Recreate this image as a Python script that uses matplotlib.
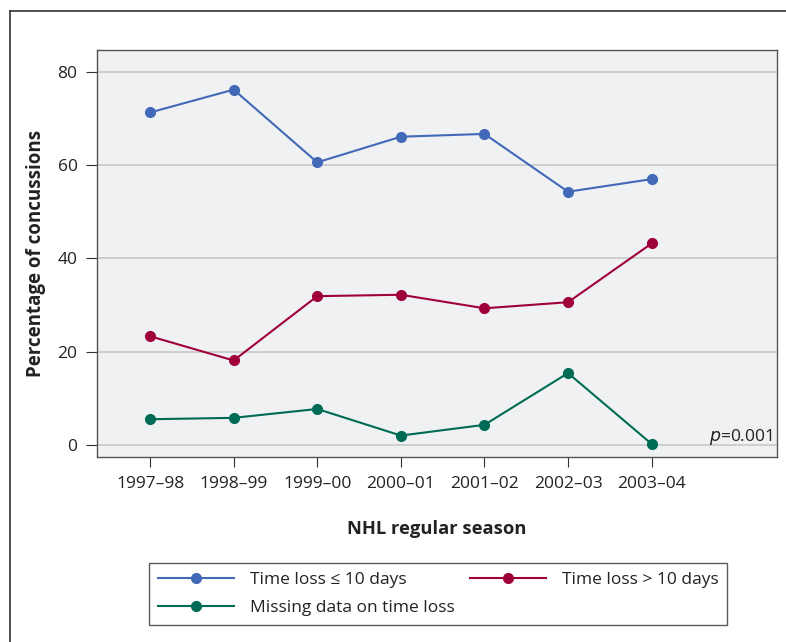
import matplotlib
matplotlib.use("Agg")
from matplotlib import pyplot as plt
from matplotlib.lines import Line2D

plt.rcParams['font.family'] = ['Open Sans', 'DejaVu Sans']

# data
seasons = ["1997\u201398", "1998\u201399", "1999\u201300", "2000\u201301",
           "2001\u201302", "2002\u201303", "2003\u201304"]
short_loss = [71.3, 76.2, 60.6, 66.1, 66.7, 54.3, 57.0]
long_loss = [23.3, 18.1, 31.9, 32.2, 29.3, 30.6, 43.2]
missing = [5.5, 5.8, 7.7, 2.0, 4.3, 15.4, 0.2]

series_labels = ["Time loss \u2264 10 days", "Time loss > 10 days",
                 "Missing data on time loss"]
colors = ["#4169b8", "#a0003a", "#006b55"]

W, H = 786, 642
fig = plt.figure(figsize=(W / 100, H / 100), dpi=100)
ax = fig.add_axes([97 / W, 1 - 457 / H, 680 / W, 407 / H])
ax.set_facecolor("#f0f1f3")

xs = list(range(len(seasons)))
handles = []
for vals, lab, col in zip([short_loss, long_loss, missing], series_labels, colors):
    h, = ax.plot(xs, vals, color=col, lw=1.5, marker="o", ms=7, label=lab, zorder=3)
    handles.append(h)

ax.set_xlim(-0.635, 7.5)
ax.set_ylim(-2.6, 84.7)
ax.set_yticks([0, 20, 40, 60, 80])
ax.set_xticks(xs)
ax.set_xticklabels(seasons)
ax.grid(axis="y", color="#c9c9c9", lw=1.2)
ax.set_axisbelow(True)
ax.tick_params(axis="both", direction="out", length=7, width=0.8, color="#333333",
               labelsize=12.5, labelcolor="#222222")
ax.tick_params(axis="x", pad=7)
ax.tick_params(axis="y", length=8, pad=6)
for sp in ax.spines.values():
    sp.set_color("#555555")
    sp.set_linewidth(1.0)

ax.set_ylabel("Percentage of concussions", fontsize=13.5, fontweight="bold",
              color="#222222", labelpad=8)
ax.set_xlabel("NHL regular season", fontsize=13.2, fontweight="bold",
              color="#222222", labelpad=20)

ax.text(0.993, 0.025, "$\\it{p}$=0.001", transform=ax.transAxes, ha="right",
        va="bottom", fontsize=12.5, color="#222222")

# legend: blue, red on first row, green on second
leg = fig.legend([handles[0], handles[2], handles[1]],
                 [series_labels[0], series_labels[2], series_labels[1]],
                 ncol=2, loc="upper left",
                 bbox_to_anchor=(149 / W, 1 - 563 / H, 578 / W, 0),
                 mode="expand", frameon=True, fancybox=False, fontsize=12.5,
                 handlelength=4.4, handletextpad=0.9, columnspacing=1.5,
                 borderpad=0.5, labelspacing=0.7, borderaxespad=0)
leg.get_frame().set_edgecolor("#333333")
leg.get_frame().set_linewidth(1.0)
for t in leg.get_texts():
    t.set_color("#222222")

# outer frame (left and top edges visible)
fig.add_artist(Line2D([10 / W, 10 / W], [0, 1 - 11 / H], color="#333333", lw=1.2))
fig.add_artist(Line2D([10 / W, 1], [1 - 11 / H, 1 - 11 / H], color="#333333", lw=1.2))

fig.savefig("out.png", dpi=100)
